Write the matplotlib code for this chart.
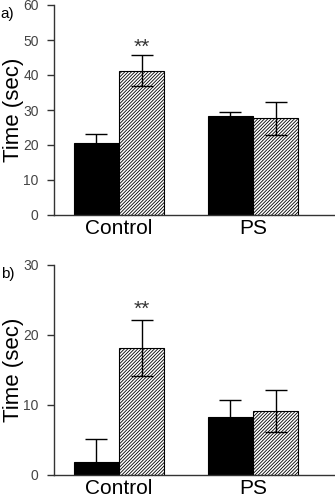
import matplotlib
matplotlib.use("Agg")
import matplotlib.pyplot as plt
import numpy as np

plt.rcParams['font.family'] = ['Liberation Sans', 'DejaVu Sans']
plt.rcParams['hatch.linewidth'] = 0.6

groups = ["Control", "PS"]

# panel a
a_black = [20.7, 28.2]
a_black_err = [2.3, 1.2]
a_hatch = [41.2, 27.6]
a_hatch_err = [4.4, 4.7]

# panel b
b_black = [1.8, 8.3]
b_black_err = [3.4, 2.4]
b_hatch = [18.2, 9.2]
b_hatch_err = [4.0, 3.0]

fig = plt.figure(figsize=(3.35, 5.0), dpi=100)
W, H = 335, 500
ax1 = fig.add_axes([54 / W, 1 - 215 / H, (335 - 54) / W, 210 / H])
ax2 = fig.add_axes([54 / W, 1 - 475 / H, (335 - 54) / W, 210 / H])

x = np.arange(len(groups))
w = 0.336


def draw(ax, blk, blk_err, hat, hat_err, ymax, yticks, star_y, label):
    ax.bar(x - w / 2, blk, w, color='black', edgecolor='black', linewidth=0.8,
           yerr=blk_err, capsize=8, error_kw=dict(elinewidth=1, capthick=1, ecolor='black'))
    ax.bar(x + w / 2, hat, w, color='white', edgecolor='black', hatch='/' * 10, linewidth=0.8,
           yerr=hat_err, capsize=8, error_kw=dict(elinewidth=1, capthick=1, ecolor='black'))
    ax.text(x[0] + w / 2, star_y, "**", ha='center', va='center', fontsize=15, color='#333333')
    ax.set_xlim(-0.485, 1.612)
    ax.set_ylim(0, ymax)
    ax.set_yticks(yticks)
    ax.set_xticks(x)
    ax.set_xticklabels(groups, fontsize=15)
    ax.tick_params(axis='x', length=0, pad=3, colors='black')
    ax.tick_params(axis='y', length=5, width=1, labelsize=10, colors='#333333',
                   labelcolor='#444444', pad=6)
    for s in ['top', 'right']:
        ax.spines[s].set_visible(False)
    for s in ['left', 'bottom']:
        ax.spines[s].set_color('#333333')
        ax.spines[s].set_linewidth(1)
    ax.set_ylabel("Time (sec)", fontsize=16)
    ax.yaxis.set_label_coords(-0.108, 0.5)
    ax.text(-0.19, 0.99, label, transform=ax.transAxes, fontsize=11, va='top', ha='left')


draw(ax1, a_black, a_black_err, a_hatch, a_hatch_err, 60, [0, 10, 20, 30, 40, 50, 60], 47.8, "a)")
draw(ax2, b_black, b_black_err, b_hatch, b_hatch_err, 30, [0, 10, 20, 30], 23.6, "b)")

fig.savefig("out.png", dpi=100)
